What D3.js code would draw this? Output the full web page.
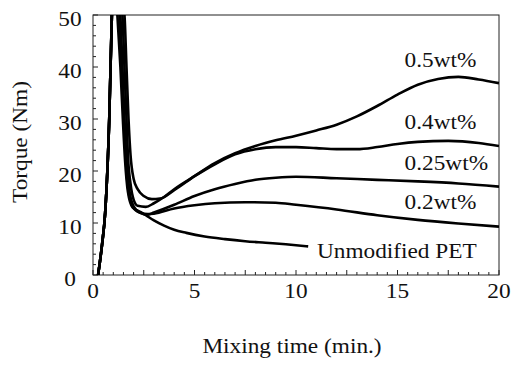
<!DOCTYPE html>
<html>
<head>
<meta charset="utf-8">
<script src="https://cdn.jsdelivr.net/npm/d3@7"></script>
<style>
  body { margin: 0; background: #fff; }
  text { font-family: "Liberation Serif", "Times New Roman", serif; fill: #111; }
</style>
</head>
<body>
<div id="chart"></div>
<script>
// rise before the peak, shared by every run
const riseX = [0.25, 0.45, 0.6, 0.8, 0.93, 1.05];
const riseY = [0, 6, 12, 30, 50, 62];

// Unmodified PET
const petX = [1.2, 1.35, 1.47, 1.58, 1.72, 1.95, 2.3, 2.6, 3, 3.5, 4, 4.6, 5.5, 6.5, 7.5, 8.5, 9.5, 10.6];
const petY = [50, 40, 30, 22, 16, 13, 12.2, 11.5, 10.5, 9.5, 8.7, 8.1, 7.4, 6.9, 6.5, 6.2, 5.9, 5.5];

// 0.2wt%
const w02X = [1.3, 1.42, 1.52, 1.62, 1.75, 1.95, 2.3, 2.7, 3, 4, 5, 6, 7.5, 9, 10, 12, 14, 16, 18, 20];
const w02Y = [50, 40, 30, 22, 16, 13.2, 12, 11.7, 11.8, 12.8, 13.4, 13.8, 14, 13.9, 13.5, 12.6, 11.5, 10.6, 9.9, 9.3];

// 0.25wt%
const w025X = [1.35, 1.45, 1.55, 1.65, 1.8, 2, 2.3, 2.7, 3, 4, 5, 6, 7, 8, 9, 10, 12, 14, 16, 18, 20];
const w025Y = [50, 40, 30, 22, 16, 13.2, 12, 11.6, 12, 13.5, 15.2, 16.5, 17.5, 18.3, 18.7, 18.9, 18.6, 18.3, 18, 17.6, 17];

// 0.4wt%
const w04X = [1.45, 1.55, 1.65, 1.72, 1.85, 2, 2.2, 2.6, 3, 3.5, 4, 5, 6, 7, 8, 9, 10, 11, 12, 13, 14, 15, 16, 17.5, 19, 20];
const w04Y = [50, 40, 30, 23, 17.5, 14.5, 13.3, 13.1, 13.8, 15, 16.5, 19, 21.3, 23.2, 24.2, 24.6, 24.6, 24.4, 24.2, 24.2, 24.6, 25.2, 25.6, 25.8, 25.4, 24.8];

// 0.5wt%
const w05X = [1.55, 1.65, 1.75, 1.85, 2, 2.2, 2.5, 2.9, 3.3, 4, 5, 6, 7, 8, 9, 10, 11, 12, 13, 14, 15, 16, 17, 18, 19, 20];
const w05Y = [50, 40, 30, 23, 18.5, 16.5, 15.2, 14.6, 14.7, 16.3, 19, 21.5, 23.4, 24.8, 25.9, 26.8, 27.8, 28.9, 30.5, 32.5, 34.7, 36.6, 37.7, 38.1, 37.6, 36.9];

const seriesNames = ["Unmodified PET", "0.2wt%", "0.25wt%", "0.4wt%", "0.5wt%"];
const seriesX = [petX, w02X, w025X, w04X, w05X];
const seriesY = [petY, w02Y, w025Y, w04Y, w05Y];
// where each label sits, in data units (left edge, baseline)
const labelX = [11.03, 15.35, 15.35, 15.35, 15.35];
const labelY = [3.3, 12.7, 20.2, 28.1, 40];

const xTicks = [0, 5, 10, 15, 20];
const yTicks = [0, 10, 20, 30, 40, 50];

const width = 513, height = 367;
const margin = { top: 15, right: 14, bottom: 92, left: 93 };
const stretch = 1.11; // the printed type is a little wider than Liberation Serif

const x = d3.scaleLinear().domain([0, 20]).range([margin.left, width - margin.right]);
const y = d3.scaleLinear().domain([0, 50]).range([height - margin.bottom, margin.top]);

const svg = d3.select("#chart").append("svg")
    .attr("width", width)
    .attr("height", height);

svg.append("clipPath").attr("id", "plot-clip")
    .append("rect")
    .attr("x", x(0)).attr("y", y(50))
    .attr("width", x(20) - x(0)).attr("height", y(0) - y(50));

// inward ticks, bottom and left only
const xMinor = d3.range(0, 20.01, 0.5);
svg.append("g").selectAll("line")
    .data(xMinor)
    .join("line")
    .attr("x1", d => x(d)).attr("x2", d => x(d))
    .attr("y1", y(0))
    .attr("y2", d => y(0) - (d % 2.5 === 0 ? 5 : 3))
    .attr("stroke", "#222").attr("stroke-width", 1);

const yMinor = d3.range(0, 50.01, 2);
svg.append("g").selectAll("line")
    .data(yMinor)
    .join("line")
    .attr("y1", d => y(d)).attr("y2", d => y(d))
    .attr("x1", x(0))
    .attr("x2", d => x(0) + (d % 10 === 0 ? 5 : 3))
    .attr("stroke", "#222").attr("stroke-width", 1);

// frame
svg.append("rect")
    .attr("x", x(0)).attr("y", y(50))
    .attr("width", x(20) - x(0)).attr("height", y(0) - y(50))
    .attr("fill", "none")
    .attr("stroke", "#222")
    .attr("stroke-width", 1);

const line = d3.line()
    .x(d => x(d[0]))
    .y(d => y(d[1]))
    .curve(d3.curveMonotoneX);

const curves = seriesX.map((xs, i) => {
    const pts = riseX.map((v, j) => [v, riseY[j]]);
    xs.forEach((v, j) => pts.push([v, seriesY[i][j]]));
    return pts;
});

svg.append("g").attr("clip-path", "url(#plot-clip)")
    .selectAll("path")
    .data(curves)
    .join("path")
    .attr("d", line)
    .attr("fill", "none")
    .attr("stroke", "#000")
    .attr("stroke-width", 2.6)
    .attr("stroke-linejoin", "round");

// tick labels
svg.append("g").selectAll("text")
    .data(xTicks)
    .join("text")
    .attr("transform", d => `translate(${x(d)},${y(0) + 23}) scale(${stretch},1)`)
    .attr("text-anchor", "middle")
    .style("font-size", "21px")
    .text(d => d);

svg.append("g").selectAll("text")
    .data(yTicks)
    .join("text")
    .attr("transform", d => `translate(70,${y(d) + 11}) scale(${stretch},1)`)
    .attr("text-anchor", "middle")
    .style("font-size", "21px")
    .text(d => d);

// series labels
svg.append("g").selectAll("text")
    .data(seriesNames)
    .join("text")
    .attr("transform", (d, i) => `translate(${x(labelX[i])},${y(labelY[i])}) scale(${stretch},1)`)
    .style("font-size", "21px")
    .text(d => d);

// axis titles
svg.append("text")
    .attr("transform", `translate(292,353) scale(${stretch},1)`)
    .attr("text-anchor", "middle")
    .style("font-size", "21px")
    .text("Mixing time (min.)");

svg.append("text")
    .attr("transform", `translate(27,142) rotate(-90) scale(${stretch},1)`)
    .attr("text-anchor", "middle")
    .style("font-size", "21px")
    .text("Torque (Nm)");
</script>
</body>
</html>
